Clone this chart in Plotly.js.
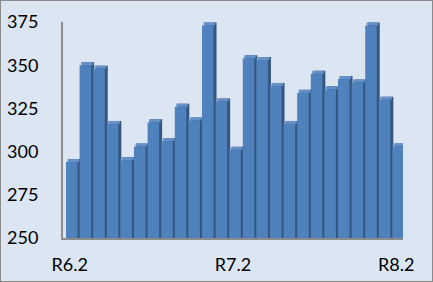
<!DOCTYPE html>
<html>
<head>
<meta charset="utf-8">
<script src="https://cdn.plot.ly/plotly-3.0.1.min.js"></script>
<style>
html,body{margin:0;padding:0;background:#fff;}
#wrap{width:433px;height:282px;box-sizing:border-box;border:1px solid #8a8a8a;background:#dce6f2;}
#chart{width:431px;height:280px;}
</style>
</head>
<body>
<div id="wrap"><div id="chart"></div></div>
<script>
// Monthly categories R6.2 ... R8.2
const categories = [
  'R6.2','R6.3','R6.4','R6.5','R6.6','R6.7','R6.8','R6.9','R6.10','R6.11','R6.12','R7.1',
  'R7.2','R7.3','R7.4','R7.5','R7.6','R7.7','R7.8','R7.9','R7.10','R7.11','R7.12','R8.1','R8.2'
];
const values = [294, 350, 348, 316, 295, 303, 317, 306, 326, 318, 373, 329, 301,
                354, 353, 338, 316, 334, 345, 336, 342, 340, 373, 330, 303];
const tickLabels = ['R6.2', 'R7.2', 'R8.2'];
const yTicks = [250, 275, 300, 325, 350, 375];

const depth = 1.75; // 3D depth in data units (visual effect)
const shadowVals = values.map(v => v + depth);
const topHeights = values.map(() => depth);

const common = {x: categories, type: 'bar', hoverinfo: 'skip', showlegend: false};
const traces = [
  Object.assign({}, common, {y: shadowVals, width: 0.85, offset: -0.06,
    marker: {color: '#34567f', line: {width: 0}}}),
  Object.assign({}, common, {y: topHeights, base: values, width: 0.85, offset: -0.17,
    marker: {color: '#6590c8', line: {width: 0}}}),
  Object.assign({}, common, {y: values, width: 0.85, offset: -0.28,
    marker: {color: '#4f81bd', line: {width: 0}}})
];

const layout = {
  width: 431, height: 280,
  margin: {l: 62, r: 29, t: 21, b: 43},
  paper_bgcolor: 'rgba(0,0,0,0)',
  plot_bgcolor: 'rgba(0,0,0,0)',
  barmode: 'overlay',
  font: {family: 'Lato, "Open Sans", sans-serif', size: 18, color: '#000'},
  xaxis: {
    type: 'category', categoryorder: 'array', categoryarray: categories,
    range: [-0.5, 24.5], tickmode: 'array', tickvals: tickLabels, ticktext: tickLabels,
    showgrid: false, zeroline: false, showline: true, linecolor: '#8c8c8c', linewidth: 2,
    ticks: '', ticklabelstandoff: 9, tickfont: {size: 18}
  },
  yaxis: {
    range: [250, 375], tickmode: 'array', tickvals: yTicks,
    showgrid: false, zeroline: false, showline: true, linecolor: '#8c8c8c', linewidth: 2,
    ticks: '', ticklabelstandoff: 19, tickfont: {size: 18}
  }
};

Plotly.newPlot('chart', traces, layout, {displayModeBar: false, staticPlot: true});
</script>
</body>
</html>
